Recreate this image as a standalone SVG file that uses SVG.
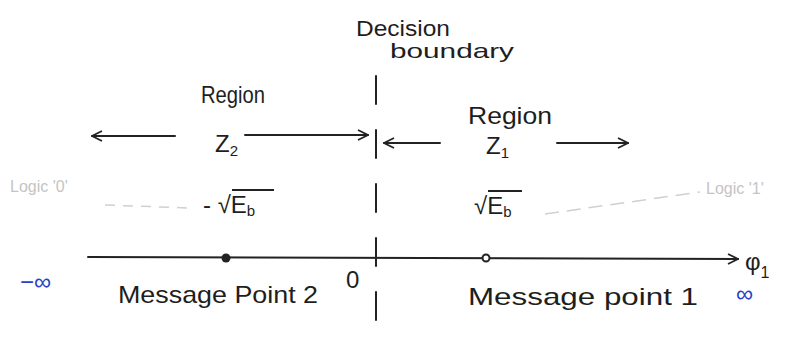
<svg xmlns="http://www.w3.org/2000/svg" width="812" height="342" viewBox="0 0 812 342">
<style>
text{font-family:"Liberation Sans",Arial,sans-serif;fill:#1e1e1e}
.hand{font-size:24px}
.faint{fill:#c4c4c4;font-size:16px}
.blue{fill:#2b3fc8}
.ln{stroke:#222;stroke-width:2;fill:none;stroke-linecap:round}
.ov{stroke:#222;stroke-width:2;fill:none}
.fl{stroke:#d0d0d0;stroke-width:1.5;fill:none}
</style>
<defs>
<marker id="ah" viewBox="0 0 12 12" refX="11" refY="6" markerWidth="12" markerHeight="12" markerUnits="userSpaceOnUse" orient="auto-start-reverse">
<path d="M1,1 L11,6 L1,11" fill="none" stroke="#222" stroke-width="1.8"/>
</marker>
</defs>
<rect width="812" height="342" fill="#fff"/>
<g id="decision-boundary">
<text x="356" y="36" font-size="22" textLength="94" lengthAdjust="spacingAndGlyphs">Decision</text>
<text x="390" y="58" font-size="21" textLength="124" lengthAdjust="spacingAndGlyphs">boundary</text>
<path class="ln" stroke-width="1.5" stroke-dasharray="28,26" d="M376,76 V342"/>
</g>
<g id="connectors">
<line class="ln" x1="92" y1="136" x2="175" y2="136" marker-start="url(#ah)"/>
<line class="ln" x1="245" y1="135" x2="368" y2="135" marker-end="url(#ah)"/>
<line class="ln" x1="384" y1="143" x2="440" y2="143" marker-start="url(#ah)"/>
<line class="ln" x1="557" y1="143" x2="628" y2="143" marker-end="url(#ah)"/>
<line class="ln" x1="88" y1="257" x2="738" y2="259" marker-end="url(#ah)"/>
<path class="fl" stroke-dasharray="10,8" d="M105,205 L190,208"/>
<path class="fl" stroke-dasharray="14,8" d="M545,214 L700,192"/>
</g>
<g id="region-z2">
<text class="hand" x="201" y="103" textLength="64" lengthAdjust="spacingAndGlyphs">Region</text>
<text class="hand" x="215" y="152">Z<tspan font-size="15" dy="4">2</tspan></text>
</g>
<g id="region-z1">
<text class="hand" x="468" y="124" textLength="84" lengthAdjust="spacingAndGlyphs">Region</text>
<text class="hand" x="486" y="154">Z<tspan font-size="15" dy="4">1</tspan></text>
</g>
<g id="logic-0"><text class="faint" x="10" y="192">Logic '0'</text></g>
<g id="logic-1"><text class="faint" x="706" y="194">Logic '1'</text></g>
<g id="message-point-2">
<circle cx="226" cy="258" r="4.5" fill="#222"/>
<text class="hand" x="203" y="213">- √E<tspan font-size="15" dy="3">b</tspan></text>
<path class="ov" d="M232,190 H274"/>
<text class="hand" x="118" y="303" textLength="200" lengthAdjust="spacingAndGlyphs">Message Point 2</text>
</g>
<g id="message-point-1">
<circle cx="486" cy="258" r="3.5" fill="#fff" stroke="#222" stroke-width="2"/>
<text class="hand" x="474" y="214">√E<tspan font-size="15" dy="3">b</tspan></text>
<path class="ov" d="M488,191 H522"/>
<text class="hand" x="468" y="305" textLength="230" lengthAdjust="spacingAndGlyphs">Message point 1</text>
</g>
<g id="origin"><text class="hand" x="346" y="288" font-size="20">0</text></g>
<g id="axis-labels">
<text class="hand" x="745" y="270" font-size="30">φ<tspan font-size="16" dy="8">1</tspan></text>
<text class="hand blue" x="20" y="290">−∞</text>
<text class="hand blue" x="736" y="302">∞</text>
</g>
</svg>
